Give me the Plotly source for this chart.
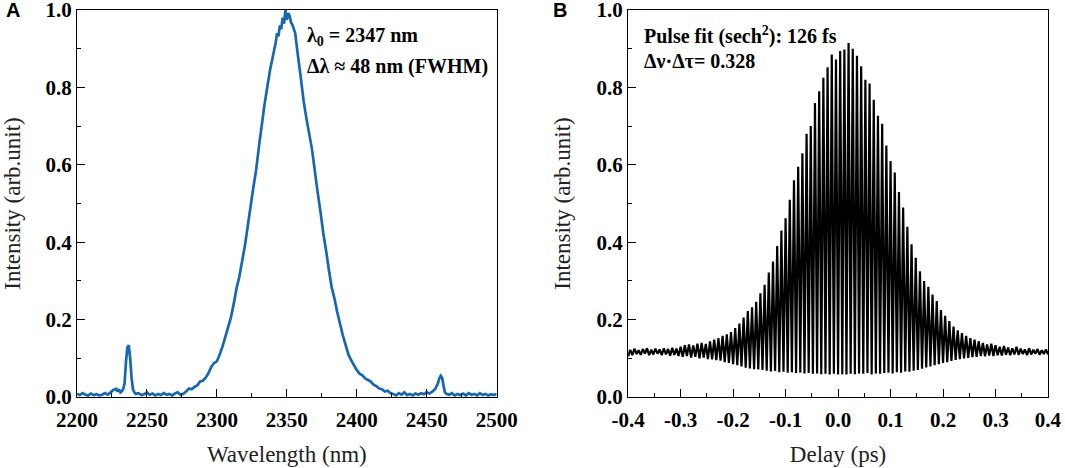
import plotly.graph_objects as go
from plotly.subplots import make_subplots

# ---------------- Panel A: optical spectrum ----------------
wavelength_nm = [
    2200, 2202, 2204, 2206, 2208, 2210, 2212, 2214, 2216, 2218, 2220, 2222, 2224, 2226, 2228, 2229,
    2230, 2231, 2232, 2233, 2234, 2235, 2236, 2237, 2238, 2239, 2240, 2241, 2242, 2244, 2246, 2248,
    2250, 2252, 2254, 2256, 2258, 2260, 2262, 2264, 2266, 2268, 2270, 2272, 2274, 2276, 2278, 2280,
    2282, 2284, 2286, 2288, 2290, 2292, 2294, 2296, 2298, 2300, 2302, 2304, 2306, 2308, 2310, 2312,
    2314, 2316, 2318, 2320, 2322, 2324, 2326, 2328, 2330, 2332, 2334, 2336, 2338, 2340, 2342, 2343,
    2344, 2345, 2346, 2347, 2348, 2349, 2350, 2351, 2352, 2353, 2354, 2356, 2358, 2360, 2362, 2364,
    2366, 2368, 2370, 2372, 2374, 2376, 2378, 2380, 2382, 2384, 2386, 2388, 2390, 2392, 2394, 2396,
    2398, 2400, 2402, 2404, 2406, 2408, 2410, 2412, 2414, 2416, 2418, 2420, 2422, 2424, 2426, 2428,
    2430, 2432, 2434, 2436, 2438, 2440, 2442, 2444, 2446, 2448, 2450, 2452, 2454, 2456, 2458, 2459,
    2460, 2461, 2462, 2463, 2464, 2466, 2468, 2470, 2472, 2474, 2476, 2478, 2480, 2482, 2484, 2486,
    2488, 2490, 2492, 2494, 2496, 2498, 2500,
]
spectrum_intensity = [
    0.008, 0.005, 0.010, 0.006, 0.004, 0.009, 0.005, 0.007, 0.004, 0.006, 0.010, 0.006, 0.012, 0.018, 0.021, 0.014,
    0.020, 0.012, 0.015, 0.020, 0.035, 0.090, 0.128, 0.134, 0.100, 0.050, 0.020, 0.012, 0.008, 0.010, 0.005, 0.007,
    0.012, 0.006, 0.009, 0.004, 0.008, 0.005, 0.010, 0.006, 0.008, 0.004, 0.009, 0.012, 0.006, 0.008, 0.014, 0.022,
    0.020, 0.026, 0.030, 0.040, 0.042, 0.050, 0.062, 0.078, 0.088, 0.092, 0.110, 0.130, 0.155, 0.180, 0.205, 0.240,
    0.280, 0.310, 0.350, 0.390, 0.440, 0.490, 0.540, 0.585, 0.645, 0.700, 0.755, 0.800, 0.845, 0.880, 0.915, 0.940,
    0.932, 0.960, 0.950, 0.980, 0.965, 1.000, 0.975, 0.992, 0.985, 0.968, 0.962, 0.940, 0.880, 0.825, 0.765, 0.720,
    0.680, 0.640, 0.585, 0.530, 0.480, 0.425, 0.380, 0.330, 0.285, 0.255, 0.220, 0.190, 0.160, 0.135, 0.110, 0.095,
    0.082, 0.070, 0.060, 0.056, 0.048, 0.044, 0.040, 0.032, 0.028, 0.022, 0.020, 0.014, 0.016, 0.010, 0.008, 0.004,
    0.010, 0.006, 0.012, 0.005, 0.008, 0.004, 0.009, 0.006, 0.010, 0.007, 0.012, 0.009, 0.014, 0.020, 0.035, 0.048,
    0.055, 0.050, 0.030, 0.012, 0.008, 0.006, 0.010, 0.004, 0.008, 0.005, 0.009, 0.004, 0.010, 0.006, 0.008, 0.004,
    0.010, 0.005, 0.008, 0.004, 0.007, 0.005, 0.008,
]

# ---------------- Panel B: interferometric autocorrelation ----------------
# fringe troughs (lower envelope) and fringe peaks (upper envelope)
trough_delay_ps = [
    -0.400, -0.392, -0.384, -0.376, -0.368, -0.360, -0.352, -0.344, -0.336, -0.328,
    -0.320, -0.312, -0.304, -0.296, -0.288, -0.280, -0.272, -0.264, -0.256, -0.248,
    -0.240, -0.232, -0.224, -0.216, -0.208, -0.200, -0.192, -0.184, -0.176, -0.168,
    -0.160, -0.152, -0.144, -0.136, -0.128, -0.120, -0.112, -0.104, -0.096, -0.088,
    -0.080, -0.072, -0.064, -0.056, -0.048, -0.040, -0.032, -0.024, -0.016, -0.008,
    0.000, 0.008, 0.016, 0.024, 0.032, 0.040, 0.048, 0.056, 0.064, 0.072,
    0.080, 0.088, 0.096, 0.104, 0.112, 0.120, 0.128, 0.136, 0.144, 0.152,
    0.160, 0.168, 0.176, 0.184, 0.192, 0.200, 0.208, 0.216, 0.224, 0.232,
    0.240, 0.248, 0.256, 0.264, 0.272, 0.280, 0.288, 0.296, 0.304, 0.312,
    0.320, 0.328, 0.336, 0.344, 0.352, 0.360, 0.368, 0.376, 0.384, 0.392,
    0.400,
]
trough_intensity = [
    0.105, 0.108, 0.111, 0.109, 0.112, 0.108, 0.110, 0.112, 0.108, 0.110,
    0.107, 0.109, 0.106, 0.104, 0.106, 0.102, 0.104, 0.100, 0.102, 0.098,
    0.097, 0.095, 0.094, 0.090, 0.088, 0.085, 0.082, 0.079, 0.076, 0.074,
    0.072, 0.071, 0.070, 0.068, 0.066, 0.067, 0.064, 0.065, 0.063, 0.064,
    0.062, 0.063, 0.061, 0.062, 0.060, 0.061, 0.059, 0.060, 0.058, 0.060,
    0.058, 0.059, 0.058, 0.060, 0.059, 0.061, 0.060, 0.062, 0.058, 0.061,
    0.060, 0.062, 0.063, 0.061, 0.064, 0.063, 0.066, 0.065, 0.068, 0.070,
    0.073, 0.076, 0.079, 0.082, 0.085, 0.088, 0.090, 0.093, 0.096, 0.098,
    0.100, 0.101, 0.103, 0.104, 0.106, 0.105, 0.107, 0.106, 0.108, 0.107,
    0.109, 0.108, 0.110, 0.109, 0.111, 0.108, 0.110, 0.112, 0.109, 0.111,
    0.110,
]
peak_delay_ps = [
    -0.396, -0.388, -0.380, -0.372, -0.364, -0.356, -0.348, -0.340, -0.332, -0.324,
    -0.316, -0.308, -0.300, -0.292, -0.284, -0.276, -0.268, -0.260, -0.252, -0.244,
    -0.236, -0.228, -0.220, -0.212, -0.204, -0.196, -0.188, -0.180, -0.172, -0.164,
    -0.156, -0.148, -0.140, -0.132, -0.124, -0.116, -0.108, -0.100, -0.092, -0.084,
    -0.076, -0.068, -0.060, -0.052, -0.044, -0.036, -0.028, -0.020, -0.012, -0.004,
    0.004, 0.012, 0.020, 0.028, 0.036, 0.044, 0.052, 0.060, 0.068, 0.076,
    0.084, 0.092, 0.100, 0.108, 0.116, 0.124, 0.132, 0.140, 0.148, 0.156,
    0.164, 0.172, 0.180, 0.188, 0.196, 0.204, 0.212, 0.220, 0.228, 0.236,
    0.244, 0.252, 0.260, 0.268, 0.276, 0.284, 0.292, 0.300, 0.308, 0.316,
    0.324, 0.332, 0.340, 0.348, 0.356, 0.364, 0.372, 0.380, 0.388, 0.396,
]
peak_intensity = [
    0.122, 0.125, 0.121, 0.124, 0.126, 0.122, 0.125, 0.123, 0.126, 0.124,
    0.127, 0.125, 0.130, 0.134, 0.136, 0.133, 0.138, 0.140, 0.137, 0.144,
    0.148, 0.152, 0.158, 0.162, 0.168, 0.178, 0.190, 0.205, 0.222, 0.232,
    0.246, 0.268, 0.290, 0.322, 0.350, 0.390, 0.430, 0.462, 0.510, 0.560,
    0.595, 0.630, 0.680, 0.700, 0.760, 0.790, 0.825, 0.852, 0.885, 0.872,
    0.894, 0.898, 0.915, 0.900, 0.882, 0.855, 0.820, 0.810, 0.768, 0.727,
    0.706, 0.650, 0.610, 0.580, 0.530, 0.490, 0.440, 0.395, 0.360, 0.325,
    0.300, 0.285, 0.265, 0.248, 0.225, 0.210, 0.196, 0.182, 0.172, 0.165,
    0.158, 0.152, 0.148, 0.144, 0.140, 0.136, 0.138, 0.134, 0.130, 0.132,
    0.128, 0.126, 0.130, 0.125, 0.123, 0.126, 0.122, 0.124, 0.121, 0.123,
]

# tick labels
wl_ticks = [2200, 2250, 2300, 2350, 2400, 2450, 2500]
wl_ticktext = ["2200", "2250", "2300", "2350", "2400", "2450", "2500"]
delay_ticks = [-0.4, -0.3, -0.2, -0.1, 0.0, 0.1, 0.2, 0.3, 0.4]
delay_ticktext = ["-0.4", "-0.3", "-0.2", "-0.1", "0.0", "0.1", "0.2", "0.3", "0.4"]
int_ticks = [0.0, 0.2, 0.4, 0.6, 0.8, 1.0]
int_ticktext = ["0.0", "0.2", "0.4", "0.6", "0.8", "1.0"]

assert len(wavelength_nm) == len(spectrum_intensity)
assert len(trough_delay_ps) == len(trough_intensity) == len(peak_delay_ps) + 1
assert len(peak_delay_ps) == len(peak_intensity)

# interleave troughs and peaks into one trace
ac_x, ac_y = [], []
for i in range(len(peak_delay_ps)):
    ac_x += [trough_delay_ps[i], peak_delay_ps[i]]
    ac_y += [trough_intensity[i], peak_intensity[i]]
ac_x.append(trough_delay_ps[-1])
ac_y.append(trough_intensity[-1])

W, H = 1065, 468
SERIF = "Liberation Serif"
ML, MR, MT, MB = 76.7, 16.5, 10.0, 71.3
PW = W - ML - MR

fig = make_subplots(rows=1, cols=2)
fig.add_trace(go.Scatter(x=wavelength_nm, y=spectrum_intensity, mode="lines",
                         line=dict(color="#1767b1", width=2.7, simplify=False), showlegend=False),
              row=1, col=1)
fig.add_trace(go.Scatter(x=ac_x, y=ac_y, mode="lines",
                         line=dict(color="black", width=2.2, simplify=False), showlegend=False),
              row=1, col=2)

axis_common = dict(showline=True, linecolor="black", linewidth=1.3, mirror=True,
                   ticks="inside", ticklen=8, tickwidth=1.3, tickcolor="black",
                   showgrid=False, zeroline=False, automargin=False, ticklabeloverflow="allow",
                   tickfont=dict(family=SERIF, size=21, color="black", weight="bold"))

x1 = [0.0, 420.0 / PW]
x2 = [(628.3 - ML) / PW, 1.0]

minor_style = dict(ticks="inside", ticklen=4, tickwidth=1.3, tickcolor="black")
title_font = dict(family=SERIF, size=23, color="#222")

fig.update_xaxes(**axis_common, row=1, col=1, domain=x1, range=[2200, 2500],
                 tickvals=wl_ticks, ticktext=wl_ticktext, ticklabelstandoff=4,
                 minor=dict(**minor_style, dtick=25, tick0=2200),
                 title=dict(text="Wavelength (nm)", font=title_font, standoff=14))
fig.update_xaxes(**axis_common, row=1, col=2, domain=x2, range=[-0.4, 0.4],
                 tickvals=delay_ticks, ticktext=delay_ticktext, ticklabelstandoff=4,
                 minor=dict(**minor_style, dtick=0.05, tick0=-0.4),
                 title=dict(text="Delay (ps)", font=title_font, standoff=14))
for c in (1, 2):
    fig.update_yaxes(**axis_common, row=1, col=c, domain=[0, 1], range=[0, 1.0001],
                     tickvals=int_ticks, ticktext=int_ticktext,
                     minor=dict(**minor_style, dtick=0.1, tick0=0),
                     title=dict(text="Intensity (arb.unit)", font=title_font, standoff=19))

bold = dict(family=SERIF, size=20, color="black", weight="bold")
ann = [
    dict(text="λ<sub>0</sub> = 2347 nm", xref="x domain", yref="y domain", x=0.543, y=0.931,
         xanchor="left", yanchor="middle", showarrow=False, font=bold),
    dict(text="Δλ ≈ 48 nm (FWHM)", xref="x domain", yref="y domain", x=0.543, y=0.853,
         xanchor="left", yanchor="middle", showarrow=False, font=bold),
    dict(text="Pulse fit (sech<sup>2</sup>): 126 fs", xref="x2 domain", yref="y2 domain", x=0.033, y=0.935,
         xanchor="left", yanchor="middle", showarrow=False, font=bold),
    dict(text="Δν·Δτ= 0.328", xref="x2 domain", yref="y2 domain", x=0.033, y=0.867,
         xanchor="left", yanchor="middle", showarrow=False, font=bold),
    dict(text="<b>A</b>", xref="paper", yref="paper", x=(4 - ML) / PW, y=1 + (MT - 10) / (H - MT - MB),
         xanchor="left", yanchor="middle", showarrow=False,
         font=dict(family="Liberation Sans", size=20, color="black")),
    dict(text="<b>B</b>", xref="paper", yref="paper", x=(551 - ML) / PW, y=1 + (MT - 10) / (H - MT - MB),
         xanchor="left", yanchor="middle", showarrow=False,
         font=dict(family="Liberation Sans", size=20, color="black")),
]
fig.update_layout(width=W, height=H, margin=dict(l=ML, r=MR, t=MT, b=MB, autoexpand=False),
                  paper_bgcolor="white", plot_bgcolor="white", annotations=ann,
                  showlegend=False)

fig.write_html("out.html", config={"displayModeBar": False},
               post_script="document.body.style.margin='0';document.body.style.padding='0';")
